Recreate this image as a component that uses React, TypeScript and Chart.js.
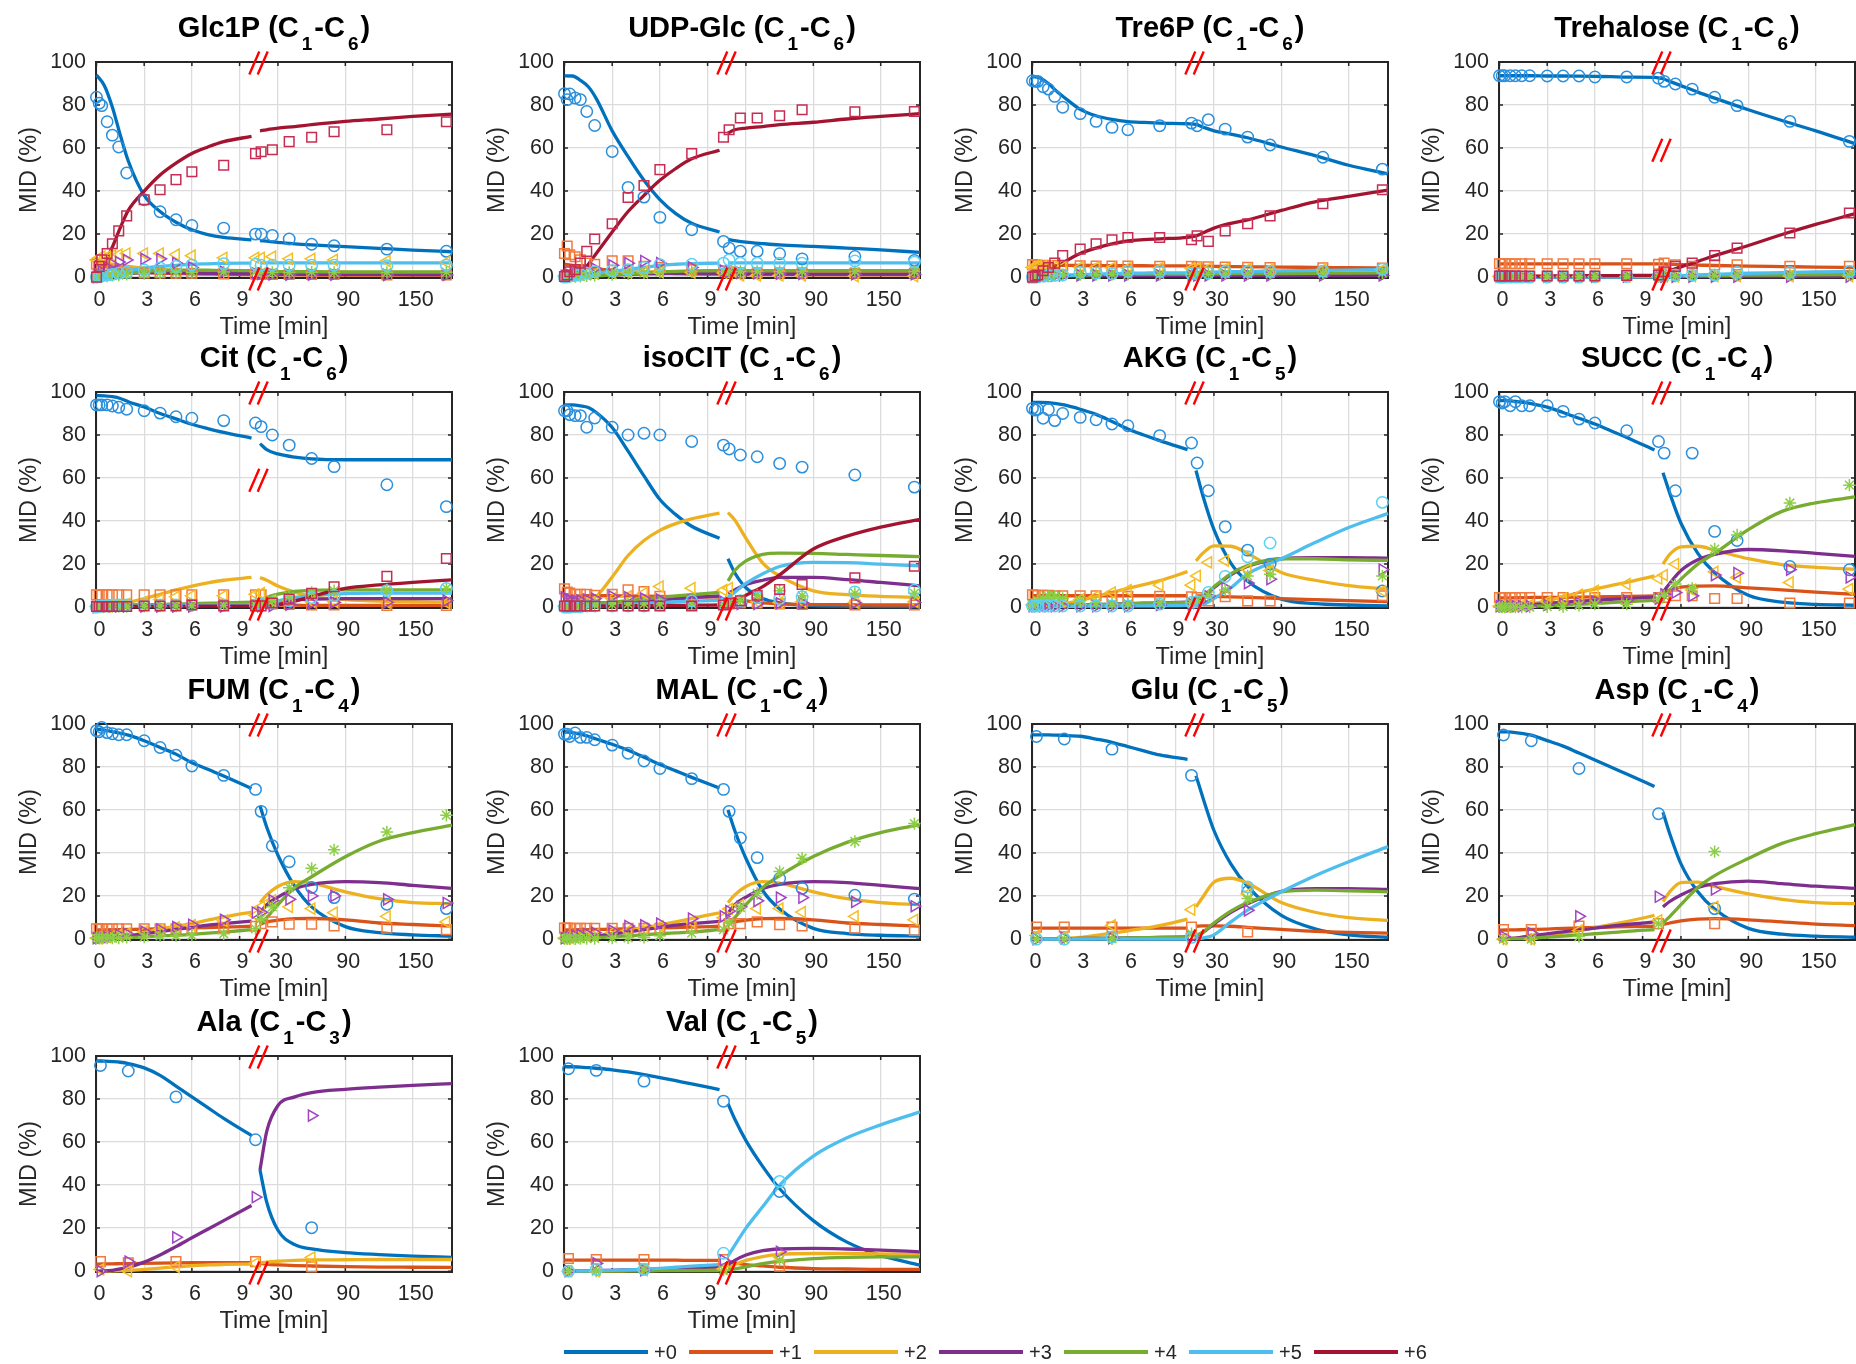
import React, { useEffect, useRef } from 'react';
import { Chart, registerables } from 'chart.js';

Chart.register(...registerables);

const FONT = '"Liberation Sans", Arial, Helvetica, sans-serif';
Chart.defaults.font.family = FONT;

// ---------- shared styling / categories ----------
const ISO_LABELS = ['+0', '+1', '+2', '+3', '+4', '+5', '+6'];
const LINE_COLORS = ['#0072BD', '#D95319', '#EDB120', '#7E2F8E', '#77AC30', '#4DBEEE', '#A2142F'];
const MARKER_COLORS = ['#2A8FDD', '#F27A3C', '#F6BE22', '#A245C2', '#8CCF45', '#5BD1F4', '#C72D52'];
const MARKER_STYLES = ['circle', 'rect', 'triangle', 'triangle', 'star', 'circle', 'rect'];
const MARKER_ROTATIONS = [0, 0, -90, 90, 0, 0, 0];
const MARKER_RADII = [5.7, 6.8, 6.4, 6.4, 6.2, 5.7, 6.8];

const X_TICK_TIMES = [0, 3, 6, 9, 30, 90, 150];
const X_TICK_LABELS = ['0', '3', '6', '9', '30', '90', '150'];
const Y_TICK_VALUES = [0, 20, 40, 60, 80, 100];

// model (fit) time grid: left segment then right segment (minutes)
const FIT_TIMES_LEFT = [0, 0.5, 1, 1.5, 2, 3, 4, 5, 6, 7, 8, 9.75];
const FIT_TIMES_RIGHT = [14, 20, 30, 45, 60, 90, 120, 150, 185];
// measurement times (minutes)
const OBS_TIMES_DENSE = [0, 0.17, 0.33, 0.67, 1, 1.4, 1.9, 3, 4, 5, 6, 8, 10, 15, 25, 40, 60, 80, 127, 180];
const OBS_TIMES_SPARSE = [0.25, 2, 5, 10, 60];

// broken time axis: 0-10 min linear, then compressed
const BREAK_TIME = 10;
const RIGHT_COMPRESSION = 3.375 / 47.8;
const toAxis = (t: number) => (t <= BREAK_TIME ? t : BREAK_TIME + (t - BREAK_TIME) * RIGHT_COMPRESSION);
const X_MIN = -0.03;
const X_MAX = toAxis(185);

// ---------- data per metabolite ----------
const glc1pFit = [
  [94, 89, 79, 66, 54, 38, 30.5, 25.5, 22, 19.8, 18.5, 17.3, 17, 16.7, 16.2, 15.5, 15, 14.2, 13.4, 12.6, 11.8],
  [6, 5, 4.2, 3.5, 3, 2.3, 1.9, 1.7, 1.5, 1.4, 1.3, 1.2, 1.2, 1.2, 1.1, 1.1, 1, 1, 1, 1, 1],
  [7, 6.5, 6, 5.5, 5, 4.2, 3.6, 3.2, 3, 2.8, 2.7, 2.6, 2.5, 2.5, 2.4, 2.4, 2.3, 2.3, 2.2, 2.2, 2.2],
  [0, 0.5, 1, 1.4, 1.7, 2, 2.1, 2, 1.9, 1.8, 1.7, 1.6, 1.5, 1.5, 1.4, 1.4, 1.3, 1.3, 1.3, 1.2, 1.2],
  [0, 0.3, 0.8, 1.3, 1.8, 2.6, 3.1, 3.3, 3.3, 3.2, 3.1, 3, 2.8, 2.7, 2.6, 2.5, 2.5, 2.4, 2.4, 2.4, 2.4],
  [0, 0.5, 1.5, 2.3, 3, 4.2, 5, 5.5, 6, 6.2, 6.4, 6.5, 6.6, 6.6, 6.6, 6.6, 6.6, 6.6, 6.6, 6.6, 6.6],
  [0, 6, 14, 23, 31, 40, 47.5, 53, 57.5, 60.5, 63, 65.4, 68, 68.5, 69.3, 70, 70.9, 72.4, 73.5, 74.7, 75.8],
];
const glc1pObs = [
  [83.6, 80.8, 79.7, 72.2, 66, 60.5, 48.4, 36, 30.4, 26.7, 24, 22.8, 20, 20, 19.4, 17.7, 15.3, 14.6, 13, 12],
  [6, 5, 4, 3.5, 3, 2.5, 2, 2, 2, 1.8, 1.8, 1.5, 1.5, 1.3, 1.3, 1.2, 1.2, 1.2, 1, 1],
  [8, 9, 9.5, 9.5, 10, 10.5, 11, 11, 11, 10.5, 10, 9, 9, 9, 9.5, 8.5, 8.5, 8, 7.5, 7],
  [0, 1, 2.5, 4.5, 6, 7, 8, 8.5, 8.5, 6.5, 4.5, 2.5, 1.8, 1.5, 1.3, 1.2, 1.2, 1.1, 1, 1],
  [0.2, 0.3, 0.3, 0.5, 0.8, 1, 1.3, 1.7, 2, 2.2, 2.3, 2.4, 2.5, 2.3, 2.2, 2.2, 2.3, 2.2, 2.2, 2.3],
  [0, 0.3, 0.5, 1, 1.3, 1.8, 2.3, 3.3, 4.3, 5, 5.7, 6.3, 6, 5.5, 5.5, 5.5, 5.5, 5.5, 5.3, 5.5],
  [0, 5, 8, 11, 15.5, 21.5, 28.5, 36, 40.6, 45.3, 49, 52, 57.4, 58.3, 59.2, 63, 65, 67.6, 68.5, 72.2],
];

const udpglcFit = [
  [93.6, 93.5, 91.5, 88.5, 83, 68, 56, 45, 36, 29.5, 25, 21, 17.5, 17, 16.3, 15.6, 15, 14.3, 13.5, 12.7, 11.5],
  [6, 5.5, 5, 4.5, 4, 3.2, 2.6, 2.2, 1.9, 1.7, 1.5, 1.4, 1.3, 1.3, 1.2, 1.2, 1.2, 1.1, 1.1, 1.1, 1],
  [0, 0.2, 0.5, 0.8, 1.1, 1.6, 2, 2.3, 2.5, 2.6, 2.6, 2.6, 2.5, 2.5, 2.4, 2.4, 2.3, 2.3, 2.2, 2.2, 2.2],
  [0, 0.1, 0.3, 0.5, 0.7, 1, 1.3, 1.5, 1.6, 1.7, 1.7, 1.7, 1.6, 1.6, 1.5, 1.5, 1.5, 1.4, 1.4, 1.4, 1.4],
  [0, 0.1, 0.2, 0.4, 0.6, 1, 1.5, 2, 2.4, 2.7, 2.9, 3, 3, 3, 3, 3, 3, 3, 3, 3, 3],
  [0, 0.3, 0.8, 1.3, 1.8, 2.7, 3.6, 4.5, 5.5, 6, 6.3, 6.5, 6.6, 6.6, 6.6, 6.6, 6.6, 6.6, 6.6, 6.6, 6.6],
  [0, 0.5, 2, 6, 11, 21, 30.5, 38, 45, 50.5, 55, 59, 67, 68.5, 69.3, 70, 70.9, 72, 73.5, 74.7, 76],
];
const udpglcObs = [
  [85.3, 82.5, 85.1, 83.3, 82.5, 77, 70.5, 58.4, 41.7, 37.2, 27.8, 22, 16.6, 13.5, 12, 12, 10.9, 8.5, 9.6, 7.8],
  [11, 14.5, 10.4, 9.5, 8, 6.5, 6, 7.6, 7.6, 5, 4.5, 3.5, 3, 2.5, 2, 2, 2, 2, 1.8, 1.8],
  [0.5, 0.6, 0.8, 1, 1.2, 1.5, 1.7, 2, 2.2, 2.3, 2.3, 2.2, 2, 1.5, 0.8, 0.8, 0.8, 0.8, 0.5, 0.5],
  [0.5, 0.5, 1, 1.5, 2, 3, 4, 5.5, 6.5, 7.5, 6.5, 4.5, 3, 2.5, 2, 1.8, 1.6, 1.5, 1.4, 1.4],
  [0, 0, 0.2, 0.3, 0.4, 0.6, 0.8, 1.2, 1.6, 2, 2.4, 2.6, 2.6, 2.7, 2.6, 2.6, 2.6, 2.6, 2.6, 2.6],
  [0, 0.2, 0.5, 0.8, 1.2, 1.8, 2.5, 3, 3.5, 4.5, 5.8, 6, 6.5, 8, 6.5, 6.5, 6.5, 6.5, 7.5, 7],
  [0.3, 1, 2.5, 3.5, 6.5, 12, 17.7, 24.8, 37, 42.6, 50, 57.4, 65, 68.5, 74, 74, 75, 77.8, 76.9, 77],
];

const tre6pFit = [
  [93.3, 92.5, 90, 86.5, 83.5, 78, 75, 73.3, 72.3, 71.9, 71.6, 71.3, 71, 69.8, 68, 66.5, 64.8, 60.5, 56.5, 52, 48],
  [5.8, 5.7, 5.6, 5.5, 5.5, 5.4, 5.4, 5.3, 5.3, 5.3, 5.2, 5.2, 5.1, 5.1, 5, 4.9, 4.8, 4.7, 4.5, 4.4, 4.2],
  [0.5, 0.5, 0.6, 0.7, 0.8, 1, 1.1, 1.2, 1.2, 1.2, 1.2, 1.2, 1.2, 1.2, 1.2, 1.2, 1.2, 1.3, 1.3, 1.3, 1.3],
  [0, 0.1, 0.2, 0.3, 0.4, 0.5, 0.6, 0.7, 0.7, 0.7, 0.7, 0.7, 0.7, 0.7, 0.7, 0.7, 0.7, 0.7, 0.7, 0.7, 0.7],
  [0, 0.1, 0.3, 0.5, 0.7, 1, 1.2, 1.3, 1.4, 1.4, 1.4, 1.4, 1.4, 1.5, 1.5, 1.6, 1.6, 1.7, 1.8, 1.9, 2],
  [0, 0.1, 0.3, 0.5, 0.7, 1.1, 1.4, 1.6, 1.8, 1.9, 2, 2, 2.1, 2.2, 2.3, 2.5, 2.6, 2.9, 3.1, 3.3, 3.5],
  [0, 0.8, 2.5, 4.5, 7, 11, 13.5, 15.5, 16.8, 17.4, 17.8, 18.5, 19.2, 20.5, 22.8, 25, 26.6, 31, 35, 37.5, 40.5],
];
const tre6pObs = [
  [91.3, 91, 91, 88.5, 87.4, 84, 79, 76, 72.4, 69.6, 68.5, 70.4, 71.6, 70.4, 73.2, 68.8, 65.1, 61.4, 55.7, 50.2],
  [5.8, 5.6, 5.5, 5.5, 5.4, 5.4, 5.3, 5.3, 5.2, 5.2, 5.1, 5, 5, 4.8, 4.8, 4.7, 4.6, 4.5, 4.3, 4.2],
  [4.5, 5, 5, 5, 5, 4.8, 4.5, 4.5, 4.5, 4.3, 4.3, 4.2, 4, 4, 4, 3.8, 3.7, 3.6, 3.5, 3.5],
  [0, 0.2, 0.3, 0.5, 0.6, 0.7, 0.8, 0.8, 0.8, 0.8, 0.8, 0.8, 0.8, 0.8, 0.8, 0.8, 0.8, 0.8, 0.8, 0.8],
  [0, 0.2, 0.3, 0.5, 0.6, 0.8, 1, 1.2, 1.2, 1.3, 1.3, 1.3, 1.3, 1.4, 1.4, 1.5, 1.5, 1.6, 1.8, 2],
  [0, 0, 0.2, 0.5, 0.5, 0.8, 1, 2.2, 1.9, 1.6, 2.6, 2.6, 1.6, 1.6, 1.9, 2.6, 2.6, 2.6, 2.8, 3.7],
  [0, 0.5, 1, 3, 4.5, 6.5, 10, 13, 15.5, 17.4, 18.4, 18.4, 17.4, 19.2, 16.6, 21.5, 24.8, 28.5, 34.1, 40.6],
];

const trehaloseFit = [
  [93.6, 93.6, 93.6, 93.6, 93.6, 93.5, 93.5, 93.4, 93.3, 93.2, 93, 92.9, 92.2, 91, 89, 86, 83.2, 77.8, 72.8, 68, 62],
  [6.2, 6.2, 6.2, 6.2, 6.2, 6.2, 6.2, 6.2, 6.2, 6.2, 6.2, 6.2, 6.1, 6, 5.8, 5.6, 5.4, 5.1, 4.9, 4.7, 4.5],
  [0.3, 0.3, 0.3, 0.3, 0.3, 0.3, 0.3, 0.3, 0.3, 0.3, 0.3, 0.3, 0.3, 0.3, 0.35, 0.4, 0.4, 0.45, 0.5, 0.5, 0.5],
  [0.2, 0.2, 0.2, 0.2, 0.2, 0.2, 0.2, 0.2, 0.2, 0.2, 0.2, 0.2, 0.2, 0.2, 0.2, 0.2, 0.2, 0.2, 0.2, 0.2, 0.2],
  [0.2, 0.2, 0.2, 0.2, 0.2, 0.2, 0.2, 0.2, 0.2, 0.2, 0.2, 0.2, 0.3, 0.4, 0.5, 0.6, 0.7, 0.9, 1, 1.1, 1.2],
  [0, 0, 0, 0, 0, 0, 0, 0, 0.05, 0.05, 0.1, 0.1, 0.2, 0.4, 0.7, 1, 1.3, 1.8, 2.1, 2.4, 2.6],
  [0.5, 0.5, 0.5, 0.5, 0.5, 0.5, 0.6, 0.6, 0.7, 0.7, 0.8, 0.8, 1.8, 3, 4.8, 7.3, 10, 14.7, 19.8, 24.5, 29.5],
];
const trehaloseObs = [
  [93.6, 93.6, 93.6, 93.6, 93.6, 93.6, 93.6, 93.5, 93.5, 93.5, 93, 93, 92.5, 91, 89.8, 87.4, 83.6, 79.7, 72.4, 63.1],
  [6.2, 6.2, 6.2, 6.2, 6.2, 6.2, 6.2, 6.2, 6.2, 6.2, 6.2, 6.2, 6, 6.5, 5.7, 5, 5.7, 5.7, 5, 5],
  [0.3, 0.3, 0.3, 0.3, 0.3, 0.3, 0.3, 0.3, 0.3, 0.3, 0.3, 0.3, 0.3, 0.3, 0.3, 0.4, 0.4, 0.5, 0.5, 0.5],
  [0.2, 0.2, 0.2, 0.2, 0.2, 0.2, 0.2, 0.2, 0.2, 0.2, 0.2, 0.2, 0.2, 0.2, 0.2, 0.2, 0.2, 0.2, 0.2, 0.2],
  [0.3, 0.3, 0.3, 0.3, 0.3, 0.3, 0.3, 0.3, 0.3, 0.3, 0.3, 0.3, 0.3, 0.3, 0.4, 0.6, 0.7, 0.9, 1, 1.1],
  [0, 0, 0, 0, 0, 0, 0, 0, 0, 0, 0.2, 0.3, 0.5, 1, 1, 1, 1, 2.2, 2.2, 2.6],
  [0.5, 0.5, 0.5, 0.5, 0.5, 0.5, 0.5, 0.5, 0.5, 0.5, 0.5, 0.8, 1, 2.5, 5, 6.5, 10, 13.5, 20.5, 29.8],
];

const citFit = [
  [98.3, 98.2, 97.8, 97, 95.5, 93, 90, 87.5, 85, 83, 81.2, 78.6, 76, 73.2, 71.2, 69.7, 68.9, 68.5, 68.5, 68.5, 68.5],
  [1, 1, 1, 1, 1, 1, 1, 1, 1, 1, 1, 1, 1, 1, 0.9, 0.9, 0.8, 0.8, 0.8, 0.8, 0.8],
  [0, 0.3, 0.8, 1.5, 2.2, 4, 6, 8, 9.8, 11.3, 12.5, 13.8, 13.8, 12.5, 9.8, 7, 5, 3.5, 2.8, 2.5, 2.3],
  [0.2, 0.3, 0.4, 0.5, 0.6, 0.8, 1, 1.1, 1.2, 1.3, 1.4, 1.5, 1.8, 2.2, 2.8, 3.4, 3.7, 4, 4, 4, 4],
  [0, 0.1, 0.2, 0.3, 0.6, 0.9, 1.2, 1.4, 1.6, 1.8, 2, 2.3, 3, 4.5, 6, 7.3, 7.8, 8, 8, 8, 8],
  [0, 0.1, 0.2, 0.3, 0.4, 0.5, 0.6, 0.7, 0.8, 0.9, 1, 1.1, 1.5, 2, 3, 4.5, 5.5, 6.3, 6.5, 6.5, 6.5],
  [0.3, 0.3, 0.3, 0.3, 0.3, 0.3, 0.4, 0.4, 0.4, 0.5, 0.5, 0.5, 0.6, 0.8, 1.2, 2.8, 5, 8.7, 10.3, 11.5, 12.7],
];
const citObs = [
  [94, 94, 94, 94, 93.5, 92.9, 92, 91.3, 90.2, 88.5, 87.8, 86.7, 85.6, 83.9, 80, 75.3, 69.1, 65.3, 56.9, 46.7],
  [5.7, 5.7, 5.7, 5.7, 5.7, 5.7, 5.7, 5.7, 5.7, 5.7, 5.7, 5.7, 5.7, 5.7, 1.5, 1.2, 1, 1, 0.8, 0.8],
  [0.3, 0.5, 0.5, 0.5, 0.8, 1, 1.5, 2.5, 3.5, 4.8, 5.3, 5.3, 6, 6.5, 3, 3, 2.5, 2.5, 2.2, 2],
  [0, 0.2, 0.3, 0.3, 0.3, 0.3, 0.3, 0.3, 0.3, 0.3, 0.3, 0.3, 0.5, 0.5, 0.6, 1.2, 1.9, 2.2, 2.2, 3],
  [0.3, 0.3, 0.3, 0.3, 0.3, 0.3, 0.3, 0.4, 0.5, 0.5, 0.6, 0.8, 1, 1.5, 3, 5, 6.8, 7.6, 8, 8.7],
  [0, 0.3, 0.5, 0.8, 1, 1, 1, 1, 1, 1, 1, 1, 1, 1.5, 2, 3, 4.5, 5.3, 7.6, 8.7],
  [0.3, 0.3, 0.3, 0.3, 0.3, 0.3, 0.3, 0.5, 0.5, 0.5, 1, 0.6, 0.6, 0.6, 1.9, 3.7, 6.4, 9.5, 14.3, 22.6],
];

const isocitFit = [
  [94, 94, 93.6, 92.8, 90.5, 83.5, 72.5, 61, 50, 43, 37.6, 32, 22.5, 16, 9, 4, 2, 0.7, 0.4, 0.3, 0.2],
  [5, 5.1, 5.2, 5.3, 5.3, 5.3, 5.2, 5.1, 5, 4.9, 4.8, 4.7, 4.5, 3.8, 2.9, 2, 1.5, 1.2, 1.1, 1, 1],
  [0, 0.5, 1.5, 3, 5, 14, 24, 31, 35.7, 38.8, 41, 43.7, 44, 40.5, 32, 20.5, 14.5, 7.6, 5.8, 5, 4.5],
  [4.5, 4, 3.2, 2.5, 2, 2, 2.3, 2.8, 3.3, 3.9, 4.4, 5.2, 6.5, 8, 10.5, 12.5, 13.8, 13.8, 12.8, 11.5, 9.9],
  [0.5, 0.6, 0.8, 1.1, 1.5, 2.2, 3, 3.8, 4.5, 5.2, 5.8, 6.8, 12.2, 17, 21.5, 24.5, 25.1, 25, 24.5, 24, 23.5],
  [0, 0.1, 0.2, 0.3, 0.5, 0.9, 1.3, 1.7, 2.1, 2.5, 2.8, 3.2, 4.5, 7, 11, 15.5, 18.9, 20.8, 20.7, 20, 19.2],
  [0.5, 0.5, 0.5, 0.5, 0.6, 0.6, 0.7, 0.7, 0.8, 0.8, 0.9, 1, 1.2, 2.5, 5.5, 9.5, 15, 27, 33, 37.2, 40.8],
];
const isocitObs = [
  [91.3, 91.3, 89.5, 89, 89, 83.6, 87.9, 83.6, 80, 80.8, 80, 77, 75.3, 73.5, 70.7, 69.9, 66.8, 65.1, 61.4, 55.8],
  [8.5, 7, 6.5, 6, 6, 6, 5.5, 6, 8, 7.3, 5, 1, 1.5, 1.5, 2, 2, 1.5, 1.2, 1, 1],
  [0.5, 0.5, 0.8, 1, 1.5, 2, 3, 4, 5, 6.5, 9.6, 8.8, 7.9, 8.8, 3, 2.5, 2.2, 2.6, 2.2, 2.5],
  [4.5, 4, 3.5, 3, 3, 3.5, 4, 5, 4.5, 4, 3.5, 3, 2.5, 2, 1.5, 1.5, 1.8, 2, 2, 2.2],
  [0.5, 0.5, 0.8, 0.8, 1, 1, 1, 1.2, 1.5, 1.5, 1.5, 1.5, 1.5, 2, 3, 5.7, 7.6, 5.3, 6.4, 6.4],
  [0, 0, 0, 0.2, 0.2, 0.5, 0.5, 0.5, 0.5, 0.5, 1, 2.9, 1.5, 2, 3, 4.5, 4, 4.8, 7.1, 7.9],
  [0.5, 0.5, 0.5, 0.5, 0.5, 0.5, 0.5, 0.5, 0.5, 0.5, 0.5, 0.5, 1, 1.8, 3, 5.5, 8.2, 10.5, 13.6, 19],
];

const akgFit = [
  [95.2, 95.2, 95, 94.6, 94, 92, 89.6, 86.3, 82.8, 80, 77.4, 73.2, 63.5, 52, 36, 20.5, 12, 3.7, 1.6, 1, 0.6],
  [5.3, 5.3, 5.3, 5.3, 5.3, 5.3, 5.3, 5.3, 5.3, 5.3, 5.3, 5.3, 5.3, 5.2, 5, 4.8, 4.5, 4, 3.5, 3, 2.6],
  [0, 0.2, 0.5, 1, 1.6, 3, 5, 6.8, 8.7, 10.5, 12.3, 16.5, 21.5, 25, 28.5, 28.3, 25, 16.1, 12.5, 10, 8.4],
  [0.3, 0.4, 0.5, 0.6, 0.8, 1, 1.2, 1.4, 1.6, 1.8, 2, 2.3, 3, 4.5, 9, 15, 19, 22.5, 23, 23, 22.8],
  [0.3, 0.4, 0.5, 0.6, 0.7, 0.9, 1.1, 1.3, 1.5, 1.7, 1.9, 2.1, 3.5, 5, 9.5, 15.5, 19.3, 22.5, 22.5, 22, 21.7],
  [0.3, 0.3, 0.3, 0.3, 0.4, 0.4, 0.5, 0.5, 0.6, 0.6, 0.7, 0.8, 0.8, 1.2, 4, 9, 15.5, 22.5, 30, 37, 43.6],
];
const akgObs = [
  [92.4, 91.6, 92, 87.8, 91.8, 86.7, 90, 88.2, 87.1, 85.1, 84.3, 79.7, 76.3, 67, 54.1, 37.4, 26.5, 20, null, 7.5],
  [5.7, 5.5, 5.5, 5.5, 5.5, 5.3, 5.3, 5.3, 5.3, 5, 5, 5, 4.8, 4.5, 2.9, 4.8, 2.9, 2.9, null, 5.3],
  [1, 1, 1.5, 1.5, 2, 2, 2.5, 3.5, 5, 6.8, 7.9, 10.2, 10.2, 14.5, 20.8, 21.6, 17.5, 17, null, 7.5],
  [0.5, 0.5, 0.5, 0.5, 0.5, 0.5, 0.5, 0.5, 0.5, 0.5, 0.5, 1, 1.5, 2, 5, 9, 11.2, 13, null, 17.4],
  [1, 2, 3, 4, 5, 5, 4, 3, 2, 1.5, 1.5, 2, 2, 3, 5.3, 8, 14.5, 15.3, null, 14.5],
  [0.5, 0.5, 0.5, 0.5, 0.5, 0.5, 0.5, 0.5, 0.5, 0.5, 0.5, 1.4, 2.2, 2.5, 6.8, 14.3, 23.4, 29.8, null, 48.7],
];

const succFit = [
  [96, 96, 95.6, 95.2, 94.6, 93, 90.5, 87.8, 85.1, 82, 78.9, 73, 62.5, 53, 39, 25, 16, 5.5, 2.3, 1.3, 0.9],
  [4.3, 4.3, 4.4, 4.4, 4.5, 4.5, 4.6, 4.7, 4.8, 4.9, 5, 5.2, 6.5, 8, 9.3, 9.8, 9.9, 9, 8, 7, 6],
  [0.5, 0.5, 0.7, 1, 1.5, 3, 4.8, 6.8, 8.4, 10, 11.5, 14.5, 20, 24.5, 28, 28.3, 26.5, 22.5, 19.8, 18.5, 17.7],
  [0.5, 0.6, 0.8, 1, 1.2, 1.8, 2.3, 2.8, 3.2, 3.6, 4, 4.6, 7, 11, 17, 22, 24.5, 26.8, 26.2, 25, 23.6],
  [0, 0.1, 0.2, 0.3, 0.4, 0.7, 1, 1.3, 1.7, 2.1, 2.5, 3.2, 5, 8, 13, 20, 25, 36, 44.5, 48.5, 51.2],
];
const succObs = [
  [95.5, 94.9, 95.5, 93.6, 95.5, 93.6, 93.6, 93.6, 91, 87.4, 85.6, 82, 77, 71.6, 54.1, 71.6, 35.2, 31, 18.9, 17.4],
  [4.5, 4.5, 4.5, 4.5, 4.5, 4.5, 4.5, 4.5, 4.5, 4.5, 4.5, 4.5, 4.5, 4.5, 5.3, 5.3, 4, 4, 1.9, 1.9],
  [0.5, 0.5, 0.5, 0.5, 0.5, 0.8, 1, 2.5, 4, 5.7, 7.6, 10.7, 13.3, 14.9, 20, 8, 16.4, 13.8, 11.5, 8.4],
  [0.5, 0.5, 0.5, 0.5, 0.5, 0.5, 0.5, 1, 1.5, 2, 2.5, 3, 4, 6, 6.8, 5.3, 14.9, 15.8, 17.4, 13.8],
  [0, 0, 0, 0, 0, 0, 0, 0.2, 0.3, 0.8, 1.4, 1.4, 3.7, 5.3, 10.7, 8.7, 27, 33.5, 48.4, 56.7],
];

const fumFit = [
  [97.7, 97.2, 96.4, 95.7, 94.8, 92.2, 89.1, 86, 82, 79, 75.8, 70, 62, 52, 39, 24.5, 15, 5.8, 3, 2, 1.4],
  [4.3, 4.35, 4.4, 4.45, 4.5, 4.6, 4.8, 5, 5.2, 5.4, 5.6, 6, 7, 8, 8.8, 9.5, 9.6, 9, 7.5, 6.8, 6.1],
  [0.5, 0.5, 0.7, 1, 1.5, 3, 4.8, 5.9, 7.2, 8.8, 10.3, 12.6, 17, 20.5, 24.5, 26.7, 26, 22, 18.8, 17, 16.5],
  [0.5, 0.6, 0.8, 1, 1.5, 2.5, 3.5, 4.5, 5.5, 6.5, 7.2, 8.4, 12, 16, 19.5, 23.5, 25.5, 26.7, 26.3, 25, 23.6],
  [0, 0.1, 0.3, 0.5, 0.7, 1.1, 1.5, 1.8, 2.2, 2.8, 3.3, 4.4, 7, 10, 16, 24, 29, 38.3, 45.5, 49.5, 53],
];
const fumObs = [
  [96.9, 96.4, 98.4, 96, 95.5, 95, 95, 92.2, 89.1, 85.5, 80.5, 76.1, 69.6, 59.4, 43.4, 36, 24, 19.3, 16.2, 14.2],
  [4.8, 4.8, 4.8, 4.8, 4.8, 4.8, 4.8, 4.8, 4.8, 4.8, 5, 5.5, 6, 7.2, 8, 6.9, 6.9, 6.1, 5.1, 4.4],
  [0.5, 0.5, 0.8, 1, 1.5, 2, 2.5, 3.5, 4.5, 5.5, 6.5, 8.5, 11, 15, 18, 15, 14.2, 12.3, 10.6, 8],
  [0.5, 0.5, 0.8, 1, 1.5, 2, 2.5, 3.5, 4.4, 5.6, 6.7, 9, 12.3, 12.5, 18, 18.5, 20.1, 20.1, 18.5, 16.8],
  [0.5, 0.5, 0.5, 0.5, 0.5, 0.5, 0.8, 1, 1.5, 1.5, 1.8, 2.5, 4.8, 9.5, 15, 23.9, 32.9, 41.5, 49.8, 57.6],
];

const malFit = [
  [96.4, 96, 95.3, 94.3, 93, 90.6, 87.8, 84.6, 81.2, 78.2, 75.2, 70.2, 60, 50.5, 37.5, 22.5, 14, 5, 2.6, 1.8, 1.4],
  [4.3, 4.35, 4.4, 4.45, 4.5, 4.6, 4.8, 5, 5.2, 5.4, 5.6, 6, 7, 8, 8.8, 9.5, 9.6, 9, 7.5, 6.8, 6.1],
  [0.5, 0.5, 0.7, 1, 1.5, 2.8, 4.2, 5.3, 6.6, 8, 9.6, 12.2, 17, 20.5, 24.5, 26.7, 26, 22, 18.8, 17, 16],
  [0.5, 0.6, 0.8, 1, 1.4, 2.3, 3.3, 4.4, 5.5, 6.5, 7.2, 8.3, 12, 16, 19.5, 23.5, 25.5, 26.7, 26.3, 25, 23.5],
  [0, 0.1, 0.3, 0.5, 0.7, 1.1, 1.5, 2, 2.5, 2.9, 3.3, 4.4, 7, 10, 16, 24, 29.5, 38.4, 45, 49.5, 53.2],
];
const malObs = [
  [95.3, 95.3, 94.2, 95.8, 93.8, 93.8, 92.7, 90.2, 86.4, 82.8, 79.3, 74.6, 69.6, 59.4, 47, 37.9, 28.2, 23.6, 20.4, 18.6],
  [5.1, 5.1, 5, 5, 5, 5, 5, 5, 5, 5, 5, 5.5, 6, 7.2, 7.2, 8, 6.7, 6.1, 5.1, 4],
  [0.5, 0.5, 0.6, 0.8, 1, 1.5, 2, 3, 4, 5, 6, 8, 10, 14, 15.8, 14.2, 14.2, 12.6, 10.6, 9],
  [0.5, 0.8, 1, 1.5, 2, 2.5, 3, 4, 6.1, 6.4, 7.2, 9.5, 10.6, 13, 15, 17.8, 19.3, 19.3, 17.3, 15.3],
  [0.2, 0.2, 0.2, 0.2, 0.3, 0.3, 0.3, 0.5, 0.6, 0.9, 1.6, 2.8, 4.4, 7.5, 14.7, 21.2, 31.4, 37.6, 45.4, 53.7],
];

const gluFit = [
  [94.9, 94.9, 94.9, 94.8, 94.7, 94.3, 93, 91.5, 89.5, 87.5, 85.6, 83.6, 76, 66, 50.5, 35, 24.5, 11, 4.8, 2, 0.9],
  [5.1, 5.1, 5.1, 5.1, 5.1, 5.1, 5.1, 5.1, 5.1, 5.1, 5.1, 5.1, 6, 6.2, 6.2, 6, 5.5, 4.5, 3.6, 3.1, 2.8],
  [0, 0, 0.1, 0.2, 0.3, 0.8, 1.8, 2.8, 3.9, 5, 6.3, 9.3, 15, 19.5, 26.5, 28.3, 26, 17, 12.5, 10, 8.7],
  [0, 0, 0.1, 0.1, 0.2, 0.3, 0.4, 0.5, 0.6, 0.7, 0.8, 1, 1.5, 3, 7, 12.5, 16.5, 22.2, 23.5, 23.5, 23.1],
  [0, 0, 0.1, 0.1, 0.2, 0.3, 0.4, 0.5, 0.6, 0.7, 0.8, 1, 1.7, 3.3, 7.5, 13, 17, 22, 22.8, 22.5, 22],
  [0, 0, 0, 0, 0, 0, 0, 0, 0, 0, 0, 0, 0.1, 0.5, 2, 8, 13.5, 22, 29.5, 36, 43],
];
const gluObs = [
  [94.2, 93, 88.3, 76.1, 22],
  [5.6, 5.6, 5.6, 5.6, 3.3],
  [1.7, 1.2, 6.4, 13.7, 21],
  [0, 0.5, 0.5, 0.8, 13.4],
  [0, 0, 0.2, 2.5, 18.9],
  [0, 0, 1, 0.8, 24.3],
];

const aspFit = [
  [96.4, 96.3, 96, 95.5, 94.8, 92.3, 89.7, 86.5, 83.3, 80, 76.8, 71, 59, 49, 35, 22, 14, 5, 2.3, 1.4, 0.9],
  [4.2, 4.25, 4.3, 4.4, 4.5, 4.7, 5, 5.2, 5.4, 5.6, 5.8, 6, 6.8, 7.5, 8.5, 9.3, 9.5, 9, 8, 7, 6.3],
  [0.3, 0.4, 0.5, 0.7, 1, 1.8, 2.8, 4, 5.3, 6.7, 8.2, 11, 17.5, 22, 26.3, 26.5, 24.5, 21, 18.5, 17, 16.5],
  [0, 0.2, 0.5, 1, 1.5, 2.5, 3.4, 4.3, 5.1, 6, 6.8, 8, 15, 17.5, 20.5, 24, 25.8, 27, 25.8, 24.6, 23.6],
  [0, 0.1, 0.2, 0.3, 0.5, 0.9, 1.4, 2, 2.5, 3, 3.6, 4.4, 7.5, 10.5, 16, 24, 29.5, 37.5, 44.5, 49, 53.2],
];
const aspObs = [
  [94.9, 92.2, 79.3, 58.3, 14.2],
  [4.4, 4.4, 6.1, 7.2, 7.2],
  [0, 0, 4, 8.7, 15],
  [1.2, 2.8, 10.6, 19.7, 23.1],
  [0, 0, 1.2, 7.2, 40.7],
];

const alaFit = [
  [97.7, 97.6, 97.4, 97.1, 96.5, 94.5, 91, 86, 81, 76, 71, 63, 47, 32, 19, 12.3, 10.3, 8.6, 7.7, 7, 6.4],
  [3.3, 3.35, 3.4, 3.45, 3.5, 3.6, 3.7, 3.8, 3.9, 4, 4, 4, 3.6, 3.2, 2.9, 2.6, 2.4, 2.1, 1.9, 1.8, 1.7],
  [0, 0, 0.1, 0.2, 0.3, 0.8, 1.4, 2, 2.5, 2.9, 3.1, 3.3, 3.8, 4.2, 4.6, 5, 5.2, 5.3, 5.4, 5.4, 5.4],
  [0, 0.1, 0.4, 1, 1.8, 4.2, 7.5, 11.4, 15.5, 19.5, 23.5, 30.5, 47, 65, 77, 81, 83, 84.5, 85.5, 86.3, 87.2],
];
const alaObs = [
  [95.6, 93, 81, 61.1, 20.2],
  [4.4, 3.9, 4.4, 4.4, 2],
  [0.8, 0, 2, 3.6, 6.4],
  [0, 4.4, 15.7, 34.4, 72.3],
];

const valFit = [
  [95, 95, 94.8, 94.6, 94.3, 93.6, 92.6, 91.4, 90, 88.5, 87, 84.4, 77.8, 70.7, 60.7, 48.6, 38.3, 23.5, 13.5, 7.3, 2.8],
  [5.1, 5.1, 5.1, 5.1, 5.1, 5.1, 5.1, 5.1, 5.1, 5.1, 5, 5, 4.5, 3.8, 3, 2.4, 1.8, 1.2, 1, 0.8, 0.8],
  [0, 0, 0, 0, 0.1, 0.1, 0.2, 0.3, 0.4, 0.5, 0.6, 0.8, 1.5, 3, 5, 6.8, 7.8, 8.2, 8.2, 8, 7.8],
  [0, 0, 0.1, 0.2, 0.3, 0.4, 0.6, 0.8, 1, 1.2, 1.5, 2, 3, 5, 7.5, 9.5, 10.3, 10.6, 10.3, 9.8, 9],
  [0, 0, 0, 0, 0, 0.1, 0.1, 0.1, 0.2, 0.2, 0.3, 0.3, 0.5, 1, 2, 3.5, 4.5, 5.8, 6.4, 6.6, 6.6],
  [0, 0, 0.1, 0.1, 0.2, 0.4, 0.6, 0.9, 1.3, 1.8, 2.3, 3, 7, 12, 20, 30, 40, 53.5, 62, 68, 74],
];
const valObs = [
  [94.1, 93.3, 88.3, 79, 37],
  [5.9, 5.4, 5.4, 5.4, 2.3],
  [0, 0, 0.5, 1, 6.6],
  [0, 3.6, 0.5, 5, 9],
  [0, 0, 0.8, 0.5, 5.1],
  [0, 0.8, 0.8, 8.3, 41.7],
];

// ---------- panel list ----------
type PanelSpec = {
  name: string; c1: string; c2: string; fit: number[][]; obs: (number | null)[][];
  times: number[]; gap: boolean; midBreak?: number; col: number; row: number;
};

const PANELS: PanelSpec[] = [
  { name: 'Glc1P', c1: '1', c2: '6', fit: glc1pFit, obs: glc1pObs, times: OBS_TIMES_DENSE, gap: true, col: 0, row: 0 },
  { name: 'UDP-Glc', c1: '1', c2: '6', fit: udpglcFit, obs: udpglcObs, times: OBS_TIMES_DENSE, gap: true, col: 1, row: 0 },
  { name: 'Tre6P', c1: '1', c2: '6', fit: tre6pFit, obs: tre6pObs, times: OBS_TIMES_DENSE, gap: false, col: 2, row: 0 },
  { name: 'Trehalose', c1: '1', c2: '6', fit: trehaloseFit, obs: trehaloseObs, times: OBS_TIMES_DENSE, gap: false, midBreak: 59, col: 3, row: 0 },
  { name: 'Cit', c1: '1', c2: '6', fit: citFit, obs: citObs, times: OBS_TIMES_DENSE, gap: true, midBreak: 59, col: 0, row: 1 },
  { name: 'isoCIT', c1: '1', c2: '6', fit: isocitFit, obs: isocitObs, times: OBS_TIMES_DENSE, gap: true, col: 1, row: 1 },
  { name: 'AKG', c1: '1', c2: '5', fit: akgFit, obs: akgObs, times: OBS_TIMES_DENSE, gap: true, col: 2, row: 1 },
  { name: 'SUCC', c1: '1', c2: '4', fit: succFit, obs: succObs, times: OBS_TIMES_DENSE, gap: true, col: 3, row: 1 },
  { name: 'FUM', c1: '1', c2: '4', fit: fumFit, obs: fumObs, times: OBS_TIMES_DENSE, gap: true, col: 0, row: 2 },
  { name: 'MAL', c1: '1', c2: '4', fit: malFit, obs: malObs, times: OBS_TIMES_DENSE, gap: true, col: 1, row: 2 },
  { name: 'Glu', c1: '1', c2: '5', fit: gluFit, obs: gluObs, times: OBS_TIMES_SPARSE, gap: true, col: 2, row: 2 },
  { name: 'Asp', c1: '1', c2: '4', fit: aspFit, obs: aspObs, times: OBS_TIMES_SPARSE, gap: true, col: 3, row: 2 },
  { name: 'Ala', c1: '1', c2: '3', fit: alaFit, obs: alaObs, times: OBS_TIMES_SPARSE, gap: true, col: 0, row: 3 },
  { name: 'Val', c1: '1', c2: '5', fit: valFit, obs: valObs, times: OBS_TIMES_SPARSE, gap: true, col: 1, row: 3 },
];

// ---------- layout ----------
const COL_LEFT = [0, 468, 936, 1403];
const ROW_TOP = [0, 330, 662, 994];
const CANVAS_W = 468;
const CANVAS_H = 350;
const AREA_LEFT = 96;
const AREA_TOP = 62;
const AREA_RIGHT_PAD = 16;
const X_AXIS_H = 72;

const AXIS_COLOR = '#262626';

function drawBreak(ctx: CanvasRenderingContext2D, cx: number, cy: number) {
  ctx.save();
  ctx.strokeStyle = '#FF0000';
  ctx.lineWidth = 2.4;
  ctx.beginPath();
  ctx.moveTo(cx - 9.2, cy + 11.5);
  ctx.lineTo(cx + 0.8, cy - 11.5);
  ctx.moveTo(cx - 0.8, cy + 11.5);
  ctx.lineTo(cx + 9.2, cy - 11.5);
  ctx.stroke();
  ctx.restore();
}

function makeFramePlugin(p: PanelSpec) {
  return {
    id: 'frameAndTitle',
    beforeDatasetsDraw(chart: any) {
      const { ctx, chartArea } = chart;
      const { left, right, top, bottom } = chartArea;
      ctx.save();
      ctx.strokeStyle = AXIS_COLOR;
      ctx.lineWidth = 2;
      ctx.strokeRect(left, top, right - left, bottom - top);
      ctx.lineWidth = 1.5;
      ctx.beginPath();
      const xs = chart.scales.x;
      X_TICK_TIMES.forEach((t) => {
        const px = xs.getPixelForValue(toAxis(t));
        ctx.moveTo(px, bottom); ctx.lineTo(px, bottom - 4);
        ctx.moveTo(px, top); ctx.lineTo(px, top + 4);
      });
      const ys = chart.scales.y;
      Y_TICK_VALUES.forEach((v) => {
        const py = ys.getPixelForValue(v);
        ctx.moveTo(left, py); ctx.lineTo(left + 4, py);
        ctx.moveTo(right, py); ctx.lineTo(right - 4, py);
      });
      ctx.stroke();
      ctx.restore();
    },
    afterDraw(chart: any) {
      const { ctx, chartArea } = chart;
      const { left, right, top, bottom } = chartArea;
      // title with subscripts
      const mainFont = `bold 29px ${FONT}`;
      const subFont = `bold 19px ${FONT}`;
      const parts = [
        { text: `${p.name} (C`, font: mainFont, dy: 0, padL: 0, padR: 0 },
        { text: p.c1, font: subFont, dy: 13, padL: 3, padR: 2 },
        { text: '-C', font: mainFont, dy: 0, padL: 0, padR: 0 },
        { text: p.c2, font: subFont, dy: 13, padL: 3, padR: 2 },
        { text: ')', font: mainFont, dy: 0, padL: 0, padR: 0 },
      ];
      ctx.save();
      let total = 0;
      const widths = parts.map((pt) => {
        ctx.font = pt.font;
        const w = ctx.measureText(pt.text).width + pt.padL + pt.padR;
        total += w;
        return w;
      });
      let x = (left + right) / 2 - total / 2;
      const baseY = top - 25;
      ctx.fillStyle = '#000000';
      ctx.textBaseline = 'alphabetic';
      ctx.textAlign = 'left';
      parts.forEach((pt, i) => {
        ctx.font = pt.font;
        ctx.fillText(pt.text, x + pt.padL, baseY + pt.dy);
        x += widths[i];
      });
      ctx.restore();
      // axis break marks
      const bx = chart.scales.x.getPixelForValue(toAxis(BREAK_TIME)) + 3;
      drawBreak(ctx, bx, top + 1);
      drawBreak(ctx, bx, bottom + 1);
      if (p.midBreak !== undefined) {
        drawBreak(ctx, bx, chart.scales.y.getPixelForValue(p.midBreak));
      }
    },
  };
}

function buildDatasets(p: PanelSpec) {
  const datasets: any[] = [];
  // measured markers (first in list = drawn on top)
  for (let i = p.obs.length - 1; i >= 0; i--) {
    const pts: any[] = [];
    p.times.forEach((t, j) => {
      const v = p.obs[i][j];
      if (v !== null && v !== undefined) pts.push({ x: toAxis(t), y: v });
    });
    datasets.push({
      data: pts,
      showLine: false,
      pointStyle: MARKER_STYLES[i],
      pointRotation: MARKER_ROTATIONS[i],
      pointRadius: MARKER_RADII[i],
      pointBorderColor: MARKER_COLORS[i],
      pointBackgroundColor: 'rgba(0,0,0,0)',
      pointBorderWidth: 1.5,
      clip: false,
    });
  }
  // model curves
  const nl = FIT_TIMES_LEFT.length;
  for (let i = p.fit.length - 1; i >= 0; i--) {
    const row = p.fit[i];
    const leftPts = FIT_TIMES_LEFT.map((t, j) => ({ x: toAxis(t), y: row[j] }));
    const rightPts = FIT_TIMES_RIGHT.map((t, j) => ({ x: toAxis(t), y: row[nl + j] }));
    const segs = p.gap ? [leftPts, rightPts] : [leftPts.concat(rightPts)];
    segs.forEach((seg) => {
      datasets.push({
        data: seg,
        showLine: true,
        borderColor: LINE_COLORS[i],
        backgroundColor: LINE_COLORS[i],
        borderWidth: 3.3,
        pointRadius: 0,
        fill: false,
        cubicInterpolationMode: 'monotone',
        clip: false,
      });
    });
  }
  return datasets;
}

function PanelChart({ p }: { p: PanelSpec }) {
  const ref = useRef<HTMLCanvasElement | null>(null);
  useEffect(() => {
    if (!ref.current) return;
    const chart = new Chart(ref.current, {
      type: 'scatter',
      data: { datasets: buildDatasets(p) },
      options: {
        animation: false,
        responsive: false,
        maintainAspectRatio: false,
        events: [],
        layout: { padding: { left: 0, top: AREA_TOP, right: AREA_RIGHT_PAD, bottom: 0 } },
        plugins: { legend: { display: false }, tooltip: { enabled: false }, title: { display: false } },
        scales: {
          x: {
            type: 'linear',
            min: X_MIN,
            max: X_MAX,
            afterBuildTicks: (axis: any) => { axis.ticks = X_TICK_TIMES.map((t) => ({ value: toAxis(t) })); },
            afterFit: (axis: any) => { axis.height = X_AXIS_H; },
            ticks: {
              autoSkip: false, maxRotation: 0, minRotation: 0, padding: 9, labelOffset: 3,
              color: AXIS_COLOR, font: { family: FONT, size: 21.5 },
              callback: (_v: any, i: number) => X_TICK_LABELS[i],
            },
            grid: { color: '#dcdcdc', lineWidth: 1.3, drawTicks: false },
            border: { display: false },
            title: {
              display: true, text: 'Time [min]', color: AXIS_COLOR,
              font: { family: FONT, size: 23.5 }, padding: { top: 0, bottom: 8 },
            },
          },
          y: {
            type: 'linear',
            min: -0.4,
            max: 100,
            afterBuildTicks: (axis: any) => { axis.ticks = Y_TICK_VALUES.map((v) => ({ value: v })); },
            afterFit: (axis: any) => { axis.width = AREA_LEFT; },
            ticks: {
              padding: 10, color: AXIS_COLOR, font: { family: FONT, size: 21.5 },
              callback: (v: any) => String(v),
            },
            grid: { color: '#dcdcdc', lineWidth: 1.3, drawTicks: false },
            border: { display: false },
            title: {
              display: true, text: 'MID (%)', color: AXIS_COLOR,
              font: { family: FONT, size: 23.5 }, padding: { top: 15, bottom: 0 },
            },
          },
        },
      } as any,
      plugins: [makeFramePlugin(p)],
    } as any);
    return () => chart.destroy();
  }, [p]);
  return (
    <canvas
      ref={ref}
      width={CANVAS_W}
      height={CANVAS_H}
      style={{ position: 'absolute', left: COL_LEFT[p.col], top: ROW_TOP[p.row], width: CANVAS_W, height: CANVAS_H }}
    />
  );
}

function Legend() {
  return (
    <div style={{ position: 'absolute', left: 564, top: 1340, height: 24, display: 'flex', alignItems: 'center' }}>
      {ISO_LABELS.map((label, i) => (
        <div key={label} style={{ display: 'flex', alignItems: 'center', marginRight: 12 }}>
          <span style={{ display: 'inline-block', width: 84, height: 3.5, background: LINE_COLORS[i] }} />
          <span style={{ marginLeft: 6, width: 23, font: `20px ${FONT}`, color: AXIS_COLOR, lineHeight: '24px' }}>{label}</span>
        </div>
      ))}
    </div>
  );
}

export default function App() {
  return (
    <div style={{ position: 'absolute', left: 0, top: 0, width: 1856, height: 1364, overflow: 'hidden', background: '#ffffff' }}>
      {PANELS.map((p) => (
        <PanelChart key={p.name} p={p} />
      ))}
      <Legend />
    </div>
  );
}
